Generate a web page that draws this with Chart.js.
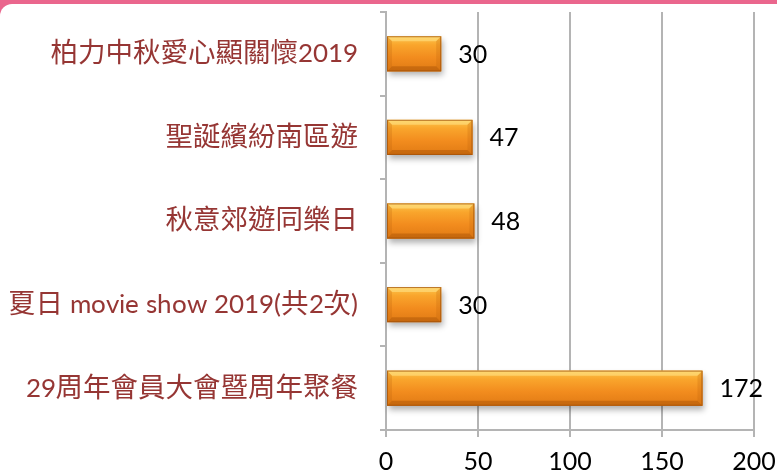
<!DOCTYPE html>
<html>
<head>
<meta charset="utf-8">
<script src="https://cdn.jsdelivr.net/npm/chart.js@4"></script>
<style>
  @font-face { font-family: 'LatoLab'; src: local('Lato Regular'), local('Lato-Regular'), local('Lato'); size-adjust: 95%; }
  html, body { margin: 0; padding: 0; background: #fff; }
  #wrap { position: relative; width: 777px; height: 475px; overflow: hidden; }
  #pink { position: absolute; left: 0; top: 0; width: 777px; height: 16px; background: #ea668d; }
  #card { position: absolute; left: 0; top: 4px; width: 777px; height: 471px; background: #fff; border-top-left-radius: 12px; }
  canvas { position: absolute; left: 0; top: 0; }
</style>
</head>
<body>
<div id="wrap">
  <div id="pink"></div>
  <div id="card"></div>
  <canvas id="c" width="777" height="475"></canvas>
</div>
<script>
// 活動 / 參加人數
const categories = ['柏力中秋愛心顯關懷2019', '聖誕繽紛南區遊', '秋意郊遊同樂日', '夏日 movie show 2019(共2次)', '29周年會員大會暨周年聚餐'];
const counts = [30, 47, 48, 30, 172];
const xTicks = [0, 50, 100, 150, 200];

const GRID = '#b4b4b4';
const FONT = 'Lato, "Noto Sans CJK TC"';
const LABEL_FONT = 'LatoLab, Lato, "Noto Sans CJK TC"';

// barras "3D" laranja: gradiente + bisel + sombra, em cima das posições do próprio Chart.js
const bevelBars = {
  id: 'bevelBars',
  afterDatasetsDraw(chart) {
    const ctx = chart.ctx;
    chart.getDatasetMeta(0).data.forEach(el => {
      const p = el.getProps(['x', 'y', 'base', 'height'], true);
      const l = Math.min(p.base, p.x), r = Math.max(p.base, p.x);
      const t = p.y - p.height / 2, b = p.y + p.height / 2;
      const w = r - l, h = b - t, e = Math.min(5, w / 4);
      ctx.save();
      // sombra
      ctx.shadowColor = 'rgba(0,0,0,0.3)';
      ctx.shadowBlur = 6; ctx.shadowOffsetX = 2; ctx.shadowOffsetY = 4;
      ctx.fillStyle = '#e98a22';
      ctx.fillRect(l, t, w, h);
      ctx.restore();
      ctx.save();
      const g = ctx.createLinearGradient(0, t, 0, b);
      g.addColorStop(0, '#fdc64c');
      g.addColorStop(0.25, '#f9a52c');
      g.addColorStop(0.6, '#f28c1e');
      g.addColorStop(1, '#e07a14');
      ctx.fillStyle = g;
      ctx.fillRect(l, t, w, h);
      // bisel: topo claro
      ctx.fillStyle = 'rgba(255,230,140,0.55)';
      ctx.beginPath(); ctx.moveTo(l, t); ctx.lineTo(r, t); ctx.lineTo(r - e, t + e); ctx.lineTo(l + e, t + e); ctx.closePath(); ctx.fill();
      // bisel: base escura
      ctx.fillStyle = 'rgba(150,70,0,0.35)';
      ctx.beginPath(); ctx.moveTo(l, b); ctx.lineTo(r, b); ctx.lineTo(r - e, b - e); ctx.lineTo(l + e, b - e); ctx.closePath(); ctx.fill();
      // laterais
      ctx.fillStyle = 'rgba(190,100,10,0.25)';
      ctx.beginPath(); ctx.moveTo(r, t); ctx.lineTo(r, b); ctx.lineTo(r - e, b - e); ctx.lineTo(r - e, t + e); ctx.closePath(); ctx.fill();
      ctx.beginPath(); ctx.moveTo(l, t); ctx.lineTo(l, b); ctx.lineTo(l + e, b - e); ctx.lineTo(l + e, t + e); ctx.closePath(); ctx.fill();
      ctx.strokeStyle = 'rgba(160,80,10,0.7)';
      ctx.lineWidth = 1;
      ctx.strokeRect(l + 0.5, t + 0.5, w - 1, h - 1);
      ctx.restore();
    });
  }
};

// rótulos de valor à direita das barras
const valueLabels = {
  id: 'valueLabels',
  afterDatasetsDraw(chart) {
    const ctx = chart.ctx;
    const ds = chart.data.datasets[0];
    ctx.save();
    ctx.font = '25px ' + FONT;
    ctx.fillStyle = '#000';
    ctx.textAlign = 'left';
    ctx.textBaseline = 'middle';
    chart.getDatasetMeta(0).data.forEach((el, i) => {
      ctx.fillText(String(ds.data[i]), el.x + 17, el.y + 1);
    });
    ctx.restore();
  }
};

function draw() {
  new Chart(document.getElementById('c'), {
    type: 'bar',
    data: {
      labels: categories,
      datasets: [{
        data: counts,
        backgroundColor: 'rgba(0,0,0,0)',
        borderWidth: 0,
        barPercentage: 0.42,
        categoryPercentage: 1
      }]
    },
    options: {
      indexAxis: 'y',
      responsive: false,
      animation: false,
      devicePixelRatio: 1,
      layout: { padding: { top: 12, right: 23, left: 0, bottom: 0 } },
      plugins: { legend: { display: false }, tooltip: { enabled: false } },
      scales: {
        x: {
          min: 0, max: 200,
          afterBuildTicks: s => { s.ticks = xTicks.map(v => ({ value: v })); },
          afterFit: s => { s.height = 45; s.paddingLeft = 0; s.paddingRight = 0; },
          grid: { color: GRID, lineWidth: 2, tickLength: 7, drawTicks: true },
          border: { display: true, color: GRID, width: 2 },
          ticks: { color: '#000', font: { family: FONT, size: 25 }, padding: 10, maxRotation: 0 }
        },
        y: {
          afterFit: s => { s.width = 386; s.paddingTop = 0; s.paddingBottom = 0; },
          grid: { drawOnChartArea: false, color: GRID, lineWidth: 2, tickLength: 6, offset: true },
          border: { display: true, color: GRID, width: 2 },
          ticks: { color: '#963634', font: { family: LABEL_FONT, size: 27.5 }, padding: 22 }
        }
      }
    },
    plugins: [bevelBars, valueLabels]
  });
}

document.fonts.load('27.5px LatoLab').then(draw, draw);
</script>
</body>
</html>
